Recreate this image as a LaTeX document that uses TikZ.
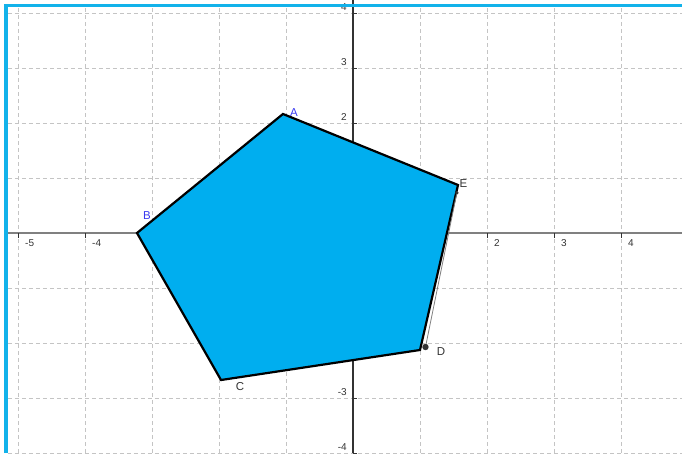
\documentclass[tikz,border=0pt]{standalone}
\usepackage{fontspec}
\setmainfont{Liberation Sans}
\definecolor{polyblue}{HTML}{00AEEF}
\definecolor{framblue}{HTML}{12B2EA}
\definecolor{gridgray}{HTML}{C4C4C4}
\definecolor{labblue}{HTML}{3A3AF0}
\definecolor{labdark}{HTML}{333333}
\begin{document}
\begin{tikzpicture}[x=67pt,y=55pt,
  gridline/.style={gridgray,line width=0.9pt,dash pattern=on 4pt off 3pt},
  ticklab/.style={font=\fontsize{10}{10}\selectfont,text=labdark,inner sep=0pt},
  ptlab/.style={font=\fontsize{11.5}{11.5}\selectfont,inner sep=0pt},
  tickmark/.style={labdark,line width=0.8pt}]
\useasboundingbox (-353/67,233/55) rectangle (329/67,-220/55);
% grid
\foreach \i in {-5,-4,-3,-2,-1,1,2,3,4}
  \draw[gridline] (\i,225/55) -- (\i,-220/55);
\foreach \j in {4,3,2,1,-1,-2,-3,-4}
  \draw[gridline] (-345/67,\j) -- (329/67,\j);
% axes
\coordinate (xl) at (-345/67,0);
\coordinate (xr) at (329/67,0);
\coordinate (yt) at (0,233/55);
\coordinate (yb) at (0,-220/55);
\draw[gray,line width=2pt] (xl) -- (xr);
\draw[labdark,line width=1.1pt] (yt) -- (yb);
\foreach \i in {-5,-4,-3,-2,-1,1,2,3,4}
  \draw[tickmark] (\i,0) -- ++(0,-5pt);
\foreach \j in {4,3,2,1,-1,-2,-3,-4}
  \draw[tickmark] (0,\j) -- ++(4pt,0);
% tick labels
\foreach \i in {-5,-4,2,3,4}
  \node[ticklab,anchor=west] (tx\i) at ([xshift=7pt,yshift=-10.5pt]\i,0) {\i};
\foreach \j in {4,3,2,-3,-4}
  \node[ticklab,anchor=east] (ty\j) at ([xshift=-6pt,yshift=6pt]0,\j) {\j};
% polygon
\coordinate (A) at (-1.045,2.164);
\coordinate (B) at (-3.224,0);
\coordinate (C) at (-1.970,-2.673);
\coordinate (Dv) at (1.000,-2.127);
\coordinate (Ev) at (1.567,0.873);
\filldraw[fill=polyblue,draw=black,line width=2.2pt,line join=miter]
  (A) -- (B) -- (C) -- (Dv) -- (Ev) -- cycle;
% free points and segment
\coordinate (Dp) at (1.082,-2.073);
\coordinate (Ep) at (1.55,0.73);
\draw[gray,line width=0.8pt] (Dp) -- (Ep);
\fill[labdark] (Dp) circle (3.2pt);
\fill[labdark] (Ep) circle (1.8pt);
% labels
\node[ptlab,text=labblue] (lA) at (-0.881,2.182) {A};
\node[ptlab,text=labblue] (lB) at (-3.075,0.309) {B};
\node[ptlab,text=labdark] (lC) at (-1.687,-2.80) {C};
\node[ptlab,text=labdark] (lD) at (1.313,-2.164) {D};
\node[ptlab,text=labdark] (lE) at (1.650,0.891) {E};
% frame
\coordinate (f1) at (-347/67,-220/55);
\coordinate (f3) at (329/67,227.5/55);
\draw[framblue,line width=3.5pt] (f1) -- (-347/67,229/55);
\draw[framblue,line width=2.8pt] (-349/67,227.5/55) -- (f3);
\end{tikzpicture}
\end{document}
